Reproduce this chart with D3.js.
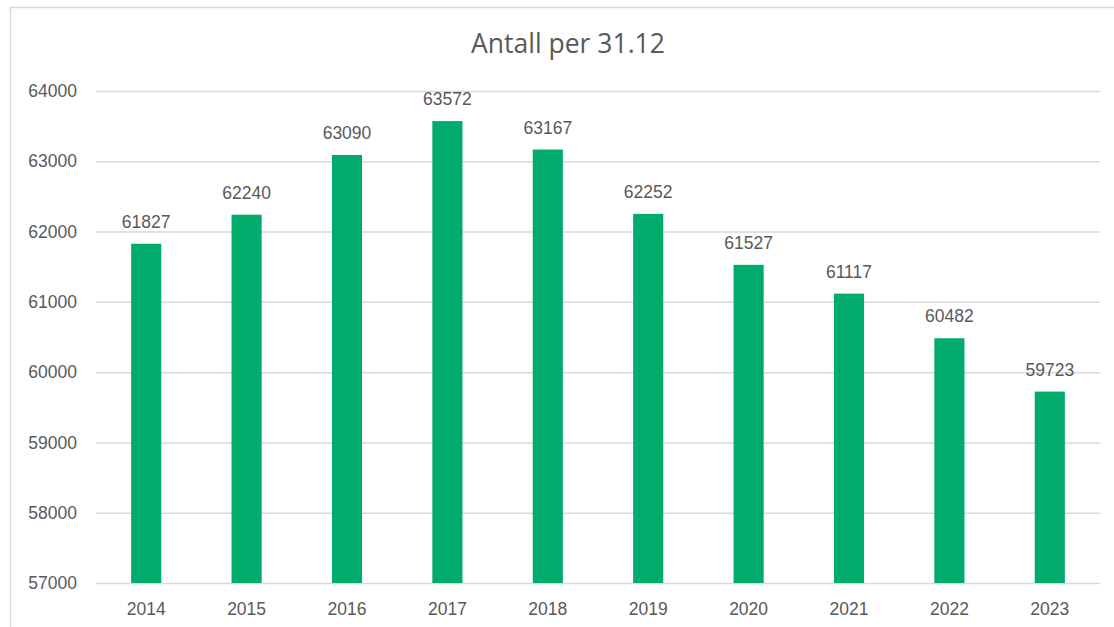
<!DOCTYPE html>
<html><head><meta charset="utf-8">
<script src="https://cdn.jsdelivr.net/npm/d3@7"></script>
<style>
html,body{margin:0;padding:0;background:#fff;overflow:hidden}
svg{display:block}
</style></head>
<body><svg id="c" width="1114" height="627"></svg>
<script>
const years = ["2014","2015","2016","2017","2018","2019","2020","2021","2022","2023"];
const values = [61827,62240,63090,63572,63167,62252,61527,61117,60482,59723];
const yTicks = [57000,58000,59000,60000,61000,62000,63000,64000];
const title = "Antall per 31.12";

const svg = d3.select("#c");
const W = 1114, H = 627;
const m = {left:96, right:14, top:91, bottom:44};
const x = d3.scaleBand().domain(years).range([m.left, W - m.right]).paddingInner(0.7).paddingOuter(0.35);
const y = d3.scaleLinear().domain([57000,64000]).range([583, 91]);

// chart border
svg.append("rect").attr("x",10.5).attr("y",7.5).attr("width",W+20).attr("height",H+20)
  .attr("fill","#fff").attr("stroke","#d9d9d9").attr("stroke-width",1.5);

// title
svg.append("text").attr("x",568).attr("y",53).attr("text-anchor","middle")
  .attr("font-family","'Open Sans', 'Noto Sans', sans-serif").attr("font-size",26.5)
  .attr("fill","#595959").text(title);

// gridlines
const yAxis = d3.axisLeft(y).tickValues(yTicks).tickSize(-(W - m.right - m.left)).tickFormat(d3.format("d")).tickPadding(19);
const ga = svg.append("g").attr("transform",`translate(${m.left},0)`).call(yAxis);
ga.select(".domain").remove();
ga.selectAll(".tick line").attr("stroke","#d9d9d9").attr("stroke-width",1.5);
ga.selectAll(".tick text").attr("fill","#595959").attr("font-size",17.5)
  .attr("font-family","'Liberation Sans', Arial, sans-serif");

// bars
svg.append("g").selectAll("rect").data(values).join("rect")
  .attr("x",(d,i)=>x(years[i])).attr("width",x.bandwidth())
  .attr("y",d=>y(d)).attr("height",d=>y(57000)-y(d)).attr("fill","#00ab6b");

// data labels
svg.append("g").selectAll("text").data(values).join("text")
  .attr("x",(d,i)=>x(years[i])+x.bandwidth()/2).attr("y",d=>y(d)-16)
  .attr("text-anchor","middle").attr("fill","#595959").attr("font-size",17.5)
  .attr("font-family","'Liberation Sans', Arial, sans-serif").text(d=>d);

// x axis
const xAxis = d3.axisBottom(x).tickSize(0).tickPadding(20);
const gx = svg.append("g").attr("transform","translate(0,583)").call(xAxis);
gx.select(".domain").remove();
gx.selectAll(".tick text").attr("fill","#595959").attr("font-size",17.5)
  .attr("font-family","'Liberation Sans', Arial, sans-serif");
</script></body></html>
